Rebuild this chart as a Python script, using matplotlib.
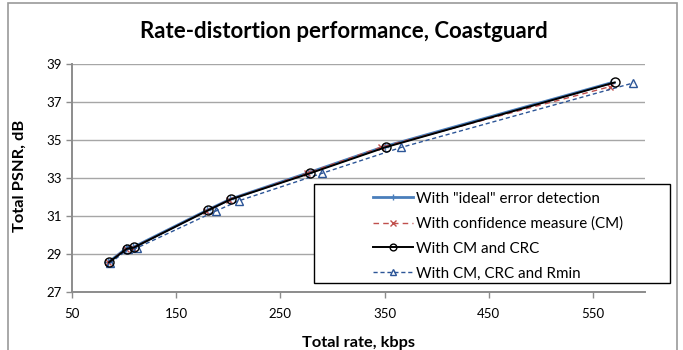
import matplotlib.pyplot as plt
from matplotlib.patches import Rectangle

# values
ideal_rate = [85, 102, 109, 180, 202, 277, 350, 567]
ideal_psnr = [28.55, 29.28, 29.35, 31.3, 31.88, 33.27, 34.65, 38.0]
cm_rate = [85, 101.5, 108.5, 179, 201, 276, 347, 566]
cm_psnr = [28.55, 29.25, 29.32, 31.25, 31.85, 33.25, 34.62, 37.8]
crc_rate = [85.5, 102.5, 109.5, 181, 202.6, 278.4, 351.3, 571]
crc_psnr = [28.55, 29.26, 29.33, 31.3, 31.87, 33.24, 34.62, 38.03]
rmin_rate = [86.5, 104, 112, 188, 210.6, 290, 365.7, 588.7]
rmin_psnr = [28.5, 29.25, 29.3, 31.25, 31.8, 33.24, 34.6, 38.0]

x_ticks = [50, 150, 250, 350, 450, 550]
y_ticks = [27, 29, 31, 33, 35, 37, 39]

labels = ['With "ideal" error detection', 'With confidence measure (CM)',
          'With CM and CRC', 'With CM, CRC and Rmin']

W, H = 683, 350
plt.rcParams['font.family'] = ['Lato', 'DejaVu Sans']

fig = plt.figure(figsize=(W / 100, H / 100), dpi=100)
ax = fig.add_axes([72 / W, 1 - 291.7 / H, (645 - 72) / W, (291.7 - 64) / H])

# outer chart border
fig.patches.append(Rectangle((8 / W, -0.05), (677 - 8) / W, 1 - 3 / H + 0.05,
                             transform=fig.transFigure, fill=False,
                             edgecolor='#9a9a9a', linewidth=1.2, zorder=0))

ax.plot(ideal_rate, ideal_psnr, '-', color='#4a7ebb', lw=2.0, marker='+',
        ms=6, mew=1.0, label=labels[0], zorder=3)
ax.plot(cm_rate, cm_psnr, '--', color='#c0504d', lw=1.0, marker='x',
        ms=5, mew=1.0, dashes=(4, 3), label=labels[1], zorder=4)
ax.plot(crc_rate, crc_psnr, '-', color='black', lw=1.4, marker='o', ms=6.5,
        mfc='none', mew=1.0, label=labels[2], zorder=5)
ax.plot(rmin_rate, rmin_psnr, '--', color='#2c5597', lw=1.0, marker='^',
        ms=6, mfc='none', mew=1.0, dashes=(3, 2), label=labels[3], zorder=4)

ax.set_xlim(50, 600)
ax.set_ylim(27, 39)
ax.set_xticks(x_ticks)
ax.set_yticks(y_ticks)
ax.grid(axis='y', color='#a6a6a6', lw=1.0)
ax.set_axisbelow(True)
for s in ['top', 'right']:
    ax.spines[s].set_visible(False)
for s in ['left', 'bottom']:
    ax.spines[s].set_color('#8c8c8c')
    ax.spines[s].set_linewidth(1.4)
ax.tick_params(axis='both', colors='#8c8c8c', length=4, width=1.0,
               labelsize=9.5, labelcolor='black')
ax.tick_params(axis='x', pad=8)

fig.text(344 / W, 1 - 38 / H, 'Rate-distortion performance, Coastguard',
         ha='center', va='baseline', fontsize=16, fontweight='bold')
fig.text(358 / W, 1 - 347 / H, 'Total rate, kbps', ha='center',
         va='baseline', fontsize=11.8, fontweight='bold')
fig.text(20 / W, 1 - 176 / H, 'Total PSNR, dB', ha='center', va='center',
         rotation=90, fontsize=11.8, fontweight='bold')

# legend box
fig.patches.append(Rectangle((314 / W, 1 - 283 / H), (670 - 314) / W,
                             (283 - 184) / H, transform=fig.transFigure,
                             facecolor='white', edgecolor='black',
                             linewidth=1.0, zorder=6))
leg = fig.legend(loc='upper left', bbox_to_anchor=(365 / W, 1 - 184 / H),
                 frameon=False, fontsize=10.9, handlelength=2.7,
                 handletextpad=0.2, labelspacing=0.72, borderpad=0.0,
                 markerscale=0.75)
leg.set_zorder(7)

fig.savefig('out.png', dpi=100)
